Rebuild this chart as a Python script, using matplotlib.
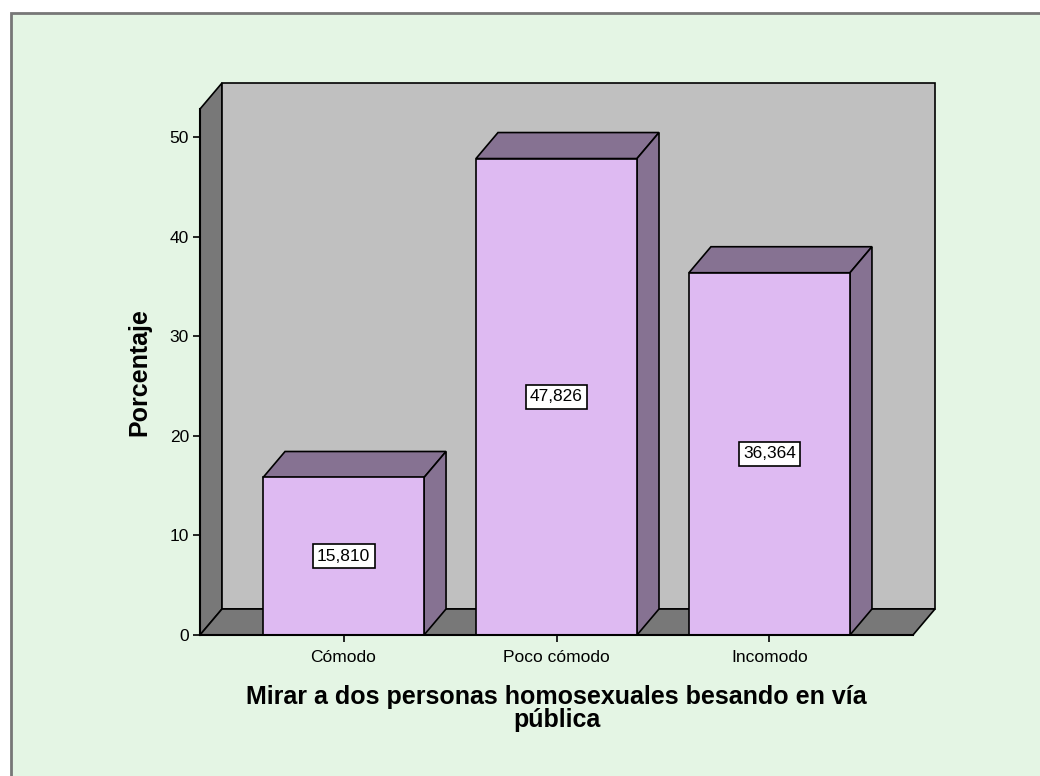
import matplotlib.pyplot as plt
from matplotlib.patches import Polygon, Rectangle

# Porcentajes por categoría
categorias = ["Cómodo", "Poco cómodo", "Incomodo"]
porcentajes = [15.810, 47.826, 36.364]
etiquetas = ["15,810", "47,826", "36,364"]
yticks = [0, 10, 20, 30, 40, 50]

plt.rcParams["font.family"] = ["Liberation Sans", "DejaVu Sans"]

fondo = "#E4F5E4"
pared = "#C0C0C0"
suelo = "#787878"
barra_frente = "#DEBAF2"
barra_lado = "#867292"

fig = plt.figure(figsize=(10.4, 7.76), dpi=100)
fig.patch.set_facecolor("white")

# marco exterior del gráfico
fig.patches.append(Rectangle((10.5 / 1040, -0.1), 1.2, 1 - 13 / 776 + 0.1,
                             transform=fig.transFigure, facecolor=fondo,
                             edgecolor="#777777", linewidth=2.0, zorder=-1))

ax = fig.add_axes([200 / 1040, 141 / 776, 713 / 1040, 526 / 776])
ax.set_facecolor("none")
xmin, xmax = -0.674, 2.674
ymax = 52.8
ax.set_xlim(xmin, xmax)
ax.set_ylim(0, ymax)

# profundidad del efecto 3D (en unidades de datos)
dx = 22 / 213
dy = 26 / 9.96
ancho = 0.756

kw = dict(edgecolor="black", linewidth=1.2, clip_on=False)

# pared izquierda, pared del fondo y suelo
ax.add_patch(Polygon([(xmin, 0), (xmin, ymax), (xmin + dx, ymax + dy), (xmin + dx, dy)],
                     facecolor=suelo, **kw))
ax.add_patch(Polygon([(xmin + dx, dy), (xmin + dx, ymax + dy), (xmax + dx, ymax + dy), (xmax + dx, dy)],
                     facecolor=pared, **kw))
ax.add_patch(Polygon([(xmin, 0), (xmax, 0), (xmax + dx, dy), (xmin + dx, dy)],
                     facecolor=suelo, **kw))

# barras con cara superior y lateral
for i, v in enumerate(porcentajes):
    x0, x1 = i - ancho / 2, i + ancho / 2
    ax.add_patch(Polygon([(x0, v), (x1, v), (x1 + dx, v + dy), (x0 + dx, v + dy)],
                         facecolor=barra_lado, zorder=3, **kw))
    ax.add_patch(Polygon([(x1, 0), (x1, v), (x1 + dx, v + dy), (x1 + dx, dy)],
                         facecolor=barra_lado, zorder=3, **kw))
    ax.add_patch(Rectangle((x0, 0), ancho, v, facecolor=barra_frente, zorder=4, **kw))
    ax.text(i, v / 2, etiquetas[i], ha="center", va="center", fontsize=12.5, zorder=5,
            bbox=dict(boxstyle="square,pad=0.25", facecolor="white", edgecolor="black", linewidth=1.2))

for s in ["top", "right"]:
    ax.spines[s].set_visible(False)
for s in ["left", "bottom"]:
    ax.spines[s].set_linewidth(1.5)
    ax.spines[s].set_zorder(6)

ax.set_xticks(range(len(categorias)))
ax.set_xticklabels(categorias)
ax.set_yticks(yticks)
ax.tick_params(axis="both", labelsize=12.5, length=5, width=1.2, colors="black")
ax.tick_params(axis="x", pad=6)
ax.tick_params(axis="y", pad=3)

ax.set_ylabel("Porcentaje", fontsize=18, fontweight="bold", labelpad=13)
ax.set_xlabel("Mirar a dos personas homosexuales besando en vía\npública",
              fontsize=18, fontweight="bold", labelpad=14, linespacing=0.95)

fig.savefig("out.png", dpi=100)
